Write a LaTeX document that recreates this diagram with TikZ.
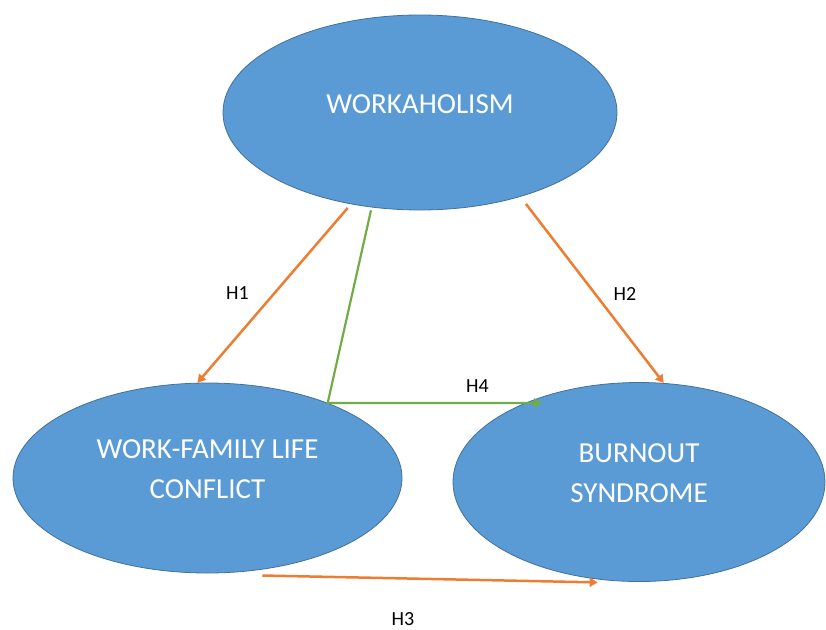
\documentclass[tikz,border=0pt]{standalone}
\usepackage{fontspec}
\setmainfont{Carlito}
\usepackage{tikz}
\usetikzlibrary{arrows.meta,shapes.geometric}
\definecolor{ovblue}{RGB}{91,155,213}
\definecolor{ovedge}{RGB}{65,113,156}
\definecolor{arorange}{RGB}{237,125,49}
\definecolor{argreen}{RGB}{112,173,71}

\begin{document}
\begin{tikzpicture}[
  x=1pt, y=-1pt,
  oval/.style={ellipse, draw=ovedge, line width=0.8pt, fill=ovblue, text=white, align=center, inner sep=0pt, text depth=17pt, font=\fontsize{29}{40}\selectfont},
  arrow/.style={-{Triangle[width=9pt,length=8pt]}, line width=2.5pt},
  hlabel/.style={inner sep=1pt, font=\fontsize{20}{24}\selectfont}
]
  \useasboundingbox (0,0) rectangle (826,629);

  \node[oval, minimum width=394pt, minimum height=195pt] (work) at (420,112.5) {WORKAHOLISM};
  \node[oval, minimum width=389pt, minimum height=190pt] (wfc) at (207.5,478) {WORK-FAMILY LIFE\\CONFLICT};
  \node[oval, minimum width=372pt, minimum height=199pt] (burn) at (639,482) {BURNOUT\\SYNDROME};
  \coordinate (h4tip) at (542,403);

  \draw[arrow, arorange, shorten <=5pt] (work.233) -- (wfc.96);
  \draw[arrow, arorange, shorten <=9pt] (work.320) -- (burn.76);
  \draw[arrow, argreen, line width=2.2pt, shorten <=3pt] (work.243) -- (wfc.32) -- (h4tip);
  \draw[arrow, arorange] ([yshift=-6pt]wfc.301) -- ([yshift=-3pt]burn.247);

  \node[hlabel] (h1) at (237.5,293) {H1};
  \node[hlabel] (h2) at (625,294) {H2};
  \node[hlabel] (h4) at (477.5,386.5) {H4};
  \node[hlabel] (h3) at (403,619) {H3};
\end{tikzpicture}
\end{document}
